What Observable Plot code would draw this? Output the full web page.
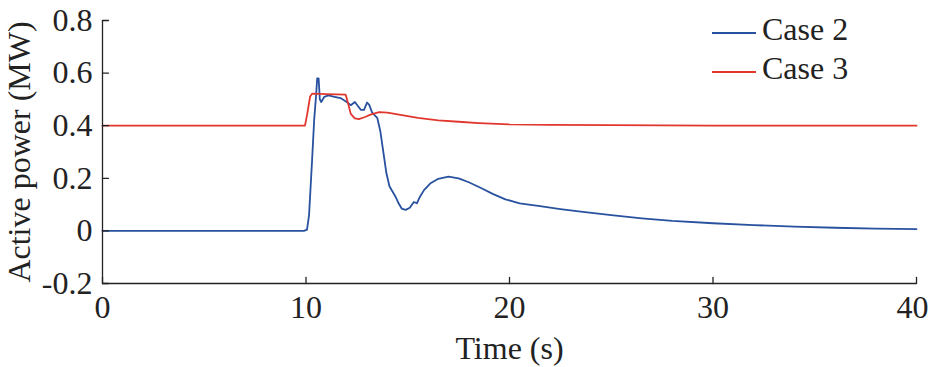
<!DOCTYPE html>
<html>
<head>
<meta charset="utf-8">
<script src="https://cdn.jsdelivr.net/npm/d3@7"></script>
<script src="https://cdn.jsdelivr.net/npm/@observablehq/plot@0.6"></script>
<style>
  html, body { margin: 0; padding: 0; background: #fff; }
  #wrap { position: relative; width: 930px; height: 367px; font-family: "Liberation Serif", "DejaVu Serif", serif; }
  #wrap svg, #wrap svg text { font-family: "Liberation Serif", "DejaVu Serif", serif !important; }
  .legend { position: absolute; left: 712px; font-size: 32px; color: #222; line-height: 1; }
  .legend .sw { display: inline-block; width: 44px; height: 2px; vertical-align: middle; margin-right: 6px; }
</style>
</head>
<body>
<div id="wrap"></div>
<script>
// Case 2 (blue)
const case2Time = [0, 9.9, 10.05, 10.15, 10.3, 10.4, 10.5, 10.55, 10.62, 10.68, 10.75, 10.9, 11.1, 11.4, 11.7, 12.0, 12.2, 12.4, 12.55, 12.7, 12.85, 13.0, 13.1, 13.25, 13.5, 13.65, 13.8, 13.95, 14.1, 14.25, 14.4, 14.55, 14.7, 14.9, 15.1, 15.3, 15.45, 15.6, 15.8, 16.1, 16.5, 17.0, 17.5, 18.0, 18.6, 19.2, 19.8, 20.5, 21.5, 22.5, 23.5, 25, 26.5, 28, 30, 32, 34, 36, 38, 40];
const case2Power = [0, 0, 0.005, 0.06, 0.27, 0.42, 0.52, 0.58, 0.58, 0.5, 0.49, 0.51, 0.515, 0.51, 0.505, 0.49, 0.478, 0.49, 0.475, 0.46, 0.46, 0.488, 0.48, 0.45, 0.43, 0.38, 0.3, 0.22, 0.17, 0.15, 0.13, 0.105, 0.085, 0.08, 0.088, 0.11, 0.105, 0.13, 0.155, 0.18, 0.198, 0.206, 0.2, 0.185, 0.163, 0.14, 0.12, 0.105, 0.094, 0.083, 0.073, 0.06, 0.048, 0.038, 0.029, 0.022, 0.016, 0.012, 0.009, 0.007];
// Case 3 (red)
const case3Time = [0, 9.95, 10.05, 10.2, 10.3, 11.0, 11.95, 12.05, 12.2, 12.4, 12.6, 12.9, 13.2, 13.6, 14.0, 14.5, 15.5, 16.5, 17.5, 18.5, 20, 22, 25, 30, 40];
const case3Power = [0.4, 0.4, 0.44, 0.51, 0.522, 0.52, 0.518, 0.49, 0.445, 0.428, 0.425, 0.433, 0.443, 0.452, 0.45, 0.443, 0.43, 0.42, 0.415, 0.41, 0.405, 0.403, 0.402, 0.4, 0.4];

const seriesNames = ["Case 2", "Case 3"];
const seriesColors = ["#28529f", "#e2372f"];
const xTicks = [0, 10, 20, 30, 40];
const yTicks = [-0.2, 0, 0.2, 0.4, 0.6, 0.8];
const xLabel = "Time (s)";
const yLabel = "Active power (MW)";

const data = [
  ...case2Time.map((t, i) => ({t, p: case2Power[i], s: seriesNames[0]})),
  ...case3Time.map((t, i) => ({t, p: case3Power[i], s: seriesNames[1]}))
];

const tickShape = { draw(context, l) { context.moveTo(0, 0); context.lineTo(0, -l); } };
const ink = "#222";
const serif = "'Liberation Serif', 'DejaVu Serif', serif";
const xAxisOpts = { tickSize: 0, tickPadding: 12, tickFormat: d => String(d), label: null, fontSize: 32, fontFamily: serif };

const chart = Plot.plot({
  width: 930,
  height: 367,
  marginLeft: 102,
  marginRight: 14,
  marginTop: 20,
  marginBottom: 84,
  style: { fontFamily: serif, fontSize: "32px", color: ink, background: "#fff" },
  x: { domain: [0, 40] },
  y: { domain: [-0.2, 0.8] },
  color: { domain: seriesNames, range: seriesColors },
  marks: [
    Plot.axisX(xTicks.slice(0, -1), xAxisOpts),
    Plot.axisX(xTicks.slice(-1), { ...xAxisOpts, dx: -4 }),
    Plot.axisY(yTicks, { tickSize: 0, tickPadding: 10, tickFormat: d => String(d), label: null, fontSize: 32, fontFamily: serif }),
    Plot.text([xLabel], { frameAnchor: "bottom", dy: 65, lineAnchor: "middle", textAnchor: "middle", text: d => d, fontSize: 32, fontFamily: serif, fill: ink }),
    Plot.text([yLabel], { frameAnchor: "left", dx: -83, rotate: -90, lineAnchor: "middle", textAnchor: "middle", text: d => d, fontSize: 32, fontFamily: serif, fill: ink }),
    Plot.line(data, { x: "t", y: "p", z: "s", stroke: "s", strokeWidth: 1.8 }),
    Plot.ruleX([xTicks[0]], { stroke: ink, strokeWidth: 1.3 }),
    Plot.ruleY([yTicks[0]], { stroke: ink, strokeWidth: 1.3 }),
    Plot.vector(xTicks, { x: d => d, y: yTicks[0], length: 6, rotate: 0, anchor: "start", shape: tickShape, stroke: ink, strokeWidth: 1.3 }),
    Plot.vector(yTicks, { x: xTicks[0], y: d => d, length: 6, rotate: 90, anchor: "start", shape: tickShape, stroke: ink, strokeWidth: 1.3 })
  ]
});

const wrap = document.getElementById("wrap");
wrap.appendChild(chart);
seriesNames.forEach((name, i) => {
  const div = document.createElement("div");
  div.className = "legend";
  div.style.top = (13 + i * 39) + "px";
  div.innerHTML = `<span class="sw" style="background:${seriesColors[i]}"></span>${name}`;
  wrap.appendChild(div);
});
</script>
</body>
</html>
